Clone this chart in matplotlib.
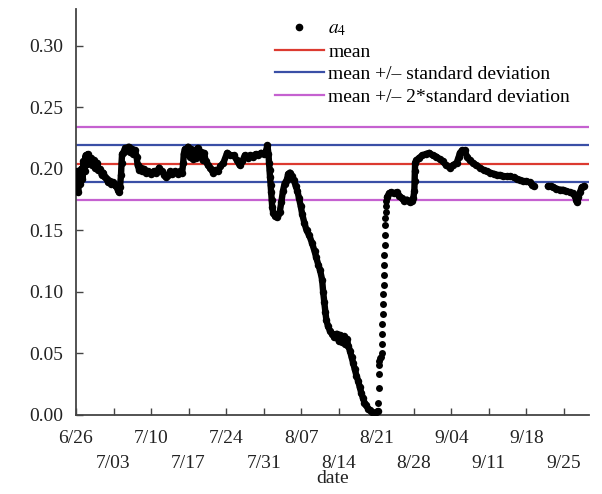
#!/usr/bin/env python3
"""Daily a4 coefficient with mean and standard deviation bands"""

import matplotlib
matplotlib.use('Agg')
import matplotlib.pyplot as plt
from matplotlib.lines import Line2D

# days elapsed since 6/26 and the a4 value, 6/26 through the 8/21 minimum
days_early = [
    0.0, 0.2, 0.4, 0.6, 0.8, 1.0, 1.2, 1.4, 1.6, 1.8, 2.0, 2.2, 2.5, 2.8, 3.0,
    3.3, 3.6, 3.9, 4.2, 4.5, 4.8, 5.1, 5.4, 5.7, 6.0, 6.3, 6.6, 6.9, 7.2, 7.5,
    7.8, 8.0, 8.2, 8.4, 8.5, 8.6, 8.9, 9.2, 9.5, 9.8, 10.1, 10.4, 10.7, 11.0,
    11.3, 11.5, 11.8, 12.1, 12.4, 12.7, 13.0, 13.5, 14.0, 14.5, 15.0, 15.5,
    16.0, 16.5, 16.8, 17.2, 17.6, 18.0, 18.5, 19.0, 19.4, 19.8, 20.0, 20.1,
    20.3, 20.6, 20.9, 21.2, 21.5, 21.8, 22.1, 22.4, 22.7, 23.0, 23.3, 23.6,
    23.9, 24.2, 24.6, 25.0, 25.3, 25.6, 26.0, 26.5, 26.9, 27.5, 28.2, 28.8,
    29.4, 30.0, 30.5, 31.0, 31.5, 32.0, 32.5, 33.0, 33.5, 34.0, 34.5, 35.0,
    35.4, 35.7, 35.9, 36.0, 36.1, 36.2, 36.3, 36.4, 36.5, 36.6, 36.8, 37.1,
    37.4, 37.7, 38.0, 38.3, 38.6, 38.9, 39.3, 39.6, 39.9, 40.2, 40.6, 41.0,
    41.3, 41.6, 41.9, 42.2, 42.6, 43.0, 43.5, 44.0, 44.5, 44.8, 45.2, 45.5,
    45.9, 46.1, 46.3, 46.5, 46.7, 47.0, 47.4, 47.8, 48.2, 48.6, 49.0, 49.3,
    49.6, 49.9, 50.2, 50.5, 50.8, 51.1, 51.4, 51.7, 52.0, 52.3, 52.6, 52.9,
    53.2, 53.5, 53.8, 54.1, 54.5, 54.8, 55.2, 55.6, 56.0, 56.3,
]
a4_early = [
    0.185, 0.198, 0.181, 0.194, 0.188, 0.200, 0.192, 0.206, 0.198, 0.211,
    0.204, 0.212, 0.207, 0.209, 0.203, 0.207, 0.201, 0.205, 0.199, 0.200,
    0.195, 0.197, 0.193, 0.192, 0.189, 0.190, 0.188, 0.189, 0.187, 0.186,
    0.183, 0.181, 0.185, 0.195, 0.205, 0.212, 0.214, 0.217, 0.215, 0.218,
    0.214, 0.216, 0.212, 0.215, 0.210, 0.203, 0.199, 0.201, 0.198, 0.200,
    0.197, 0.198, 0.196, 0.198, 0.197, 0.201, 0.198, 0.195, 0.193, 0.195,
    0.198, 0.196, 0.198, 0.196, 0.198, 0.197, 0.205, 0.212, 0.216, 0.213,
    0.218, 0.210, 0.216, 0.208, 0.215, 0.209, 0.217, 0.211, 0.214, 0.207,
    0.213, 0.206, 0.203, 0.201, 0.199, 0.197, 0.199, 0.198, 0.202, 0.205,
    0.213, 0.211, 0.211, 0.207, 0.203, 0.206, 0.211, 0.209, 0.211, 0.210,
    0.212, 0.211, 0.213, 0.212, 0.214, 0.219, 0.212, 0.205, 0.199, 0.193,
    0.187, 0.181, 0.175, 0.169, 0.164, 0.162, 0.161, 0.163, 0.165, 0.173,
    0.182, 0.188, 0.191, 0.196, 0.197, 0.194, 0.191, 0.186, 0.182, 0.176,
    0.170, 0.163, 0.156, 0.150, 0.146, 0.140, 0.133, 0.128, 0.122, 0.118,
    0.110, 0.100, 0.092, 0.084, 0.077, 0.072, 0.068, 0.066, 0.063, 0.066,
    0.060, 0.065, 0.059, 0.064, 0.058, 0.062, 0.056, 0.052, 0.047, 0.042,
    0.037, 0.032, 0.028, 0.023, 0.018, 0.014, 0.010, 0.008, 0.005, 0.004,
    0.002, 0.001, 0.002, 0.003,
]

# sharp recovery just after 8/21
days_rise = [
    56.4, 56.45, 56.5, 56.55, 56.6, 56.7, 56.9, 57.0, 57.05, 57.1, 57.15,
    57.2, 57.25, 57.3, 57.35, 57.4, 57.45, 57.5, 57.55, 57.6, 57.65, 57.7,
    57.75, 57.8, 57.85,
]
a4_rise = [
    0.010, 0.022, 0.033, 0.041, 0.044, 0.046, 0.047, 0.050, 0.058, 0.066,
    0.074, 0.082, 0.090, 0.098, 0.106, 0.114, 0.122, 0.130, 0.138, 0.146,
    0.154, 0.160, 0.165, 0.170, 0.174,
]

# late August through mid September
days_late = [
    58.0, 58.4, 58.8, 59.3, 59.8, 60.3, 60.8, 61.2, 61.7, 62.2, 62.6, 62.9,
    63.1, 63.15, 63.2, 63.25, 63.5, 64.0, 64.6, 65.2, 65.9, 66.5, 67.2, 67.8,
    68.4, 69.0, 69.7, 70.3, 71.0, 71.4, 71.6, 72.0, 72.5, 72.9, 73.4, 74.0,
    74.6, 75.3, 76.0, 76.6, 77.2, 77.9, 78.5, 79.1, 79.7, 80.3, 81.0, 81.6,
    82.2, 82.8, 83.4, 84.0, 84.6, 85.1, 85.5,
]
a4_late = [
    0.177, 0.180, 0.181, 0.180, 0.181, 0.178, 0.176, 0.174, 0.175, 0.173,
    0.174, 0.176, 0.182, 0.190, 0.198, 0.205, 0.207, 0.209, 0.211, 0.212,
    0.213, 0.211, 0.210, 0.208, 0.206, 0.203, 0.201, 0.203, 0.205, 0.210,
    0.213, 0.215, 0.215, 0.210, 0.207, 0.205, 0.203, 0.201, 0.199, 0.198,
    0.197, 0.196, 0.195, 0.195, 0.194, 0.194, 0.194, 0.193, 0.192, 0.191,
    0.190, 0.190, 0.189, 0.187, 0.186,
]

# last stretch after the data gap
days_end = [88.0, 88.5, 89.0, 89.6, 90.2, 90.8, 91.4, 92.1, 92.6, 93.0,
            93.3, 93.5, 93.7, 94.0, 94.3, 94.8]
a4_end = [0.186, 0.186, 0.185, 0.184, 0.183, 0.183, 0.182, 0.181, 0.180,
          0.178, 0.175, 0.173, 0.177, 0.181, 0.185, 0.186]

mean = 0.2043
std = 0.0149

tick_days = [0, 7, 14, 21, 28, 35, 42, 49, 56, 63, 70, 77, 84, 91]
tick_labels = ['6/26', '7/03', '7/10', '7/17', '7/24', '7/31', '8/07',
               '8/14', '8/21', '8/28', '9/04', '9/11', '9/18', '9/25']

plt.rcParams['font.family'] = ['Liberation Serif', 'DejaVu Serif']
plt.rcParams['mathtext.fontset'] = 'stix'

fig = plt.figure(figsize=(6.02, 4.94), dpi=100)
ax = fig.add_axes([0.1262, 0.16, 0.852, 0.822])

for xs, ys in ((days_early, a4_early), (days_late, a4_late), (days_end, a4_end)):
    ax.plot(xs, ys, '-o', color='black', lw=4.6, markersize=5.4,
            markeredgewidth=0, solid_capstyle='round', solid_joinstyle='round',
            zorder=3)
ax.plot(days_rise, a4_rise, 'o', color='black', markersize=5.0,
        markeredgewidth=0, zorder=3)

red = '#dc3a30'
blue = '#3a4fa6'
magenta = '#c561d0'
ax.axhline(mean, color=red, lw=1.6, zorder=2)
ax.axhline(mean + std, color=blue, lw=1.6, zorder=2)
ax.axhline(mean - std, color=blue, lw=1.6, zorder=2)
ax.axhline(mean + 2 * std, color=magenta, lw=1.6, zorder=2)
ax.axhline(mean - 2 * std, color=magenta, lw=1.6, zorder=2)

ax.set_xlim(0, 95.65)
ax.set_ylim(0, 0.33)
ax.set_yticks([0.0, 0.05, 0.10, 0.15, 0.20, 0.25, 0.30])
ax.set_yticklabels(['0.00', '0.05', '0.10', '0.15', '0.20', '0.25', '0.30'])

# alternate weeks go on a second row
ax.set_xticks(tick_days[0::2])
ax.set_xticklabels(tick_labels[0::2])
ax.set_xticks(tick_days[1::2], minor=True)
ax.set_xticklabels(tick_labels[1::2], minor=True)

for side in ('top', 'right'):
    ax.spines[side].set_visible(False)
for side in ('left', 'bottom'):
    ax.spines[side].set_color('#444444')
    ax.spines[side].set_linewidth(1.3)

ax.tick_params(which='both', direction='in', length=5, width=1, color='#444444',
               labelsize=14, labelcolor='#222222')
ax.tick_params(axis='y', pad=9)
ax.tick_params(axis='x', which='major', pad=10.5)
ax.tick_params(axis='x', which='minor', pad=28.5)
ax.set_xlabel('date', fontsize=14, color='#222222', labelpad=-1)

handles = [
    Line2D([], [], marker='o', color='black', linestyle='none', markersize=4.5),
    Line2D([], [], color=red, lw=1.6),
    Line2D([], [], color=blue, lw=1.6),
    Line2D([], [], color=magenta, lw=1.6),
]
labels = ['$a_4$', 'mean', 'mean +/\u2013 standard deviation',
          'mean +/\u2013 2*standard deviation']
fig.legend(handles, labels, loc='upper left', bbox_to_anchor=(275 / 602, 1 - 20 / 494),
           frameon=False, fontsize=14, handlelength=2.5, handletextpad=0.25,
           labelspacing=0.25, borderpad=0, borderaxespad=0)

fig.savefig('out.png', dpi=100)
